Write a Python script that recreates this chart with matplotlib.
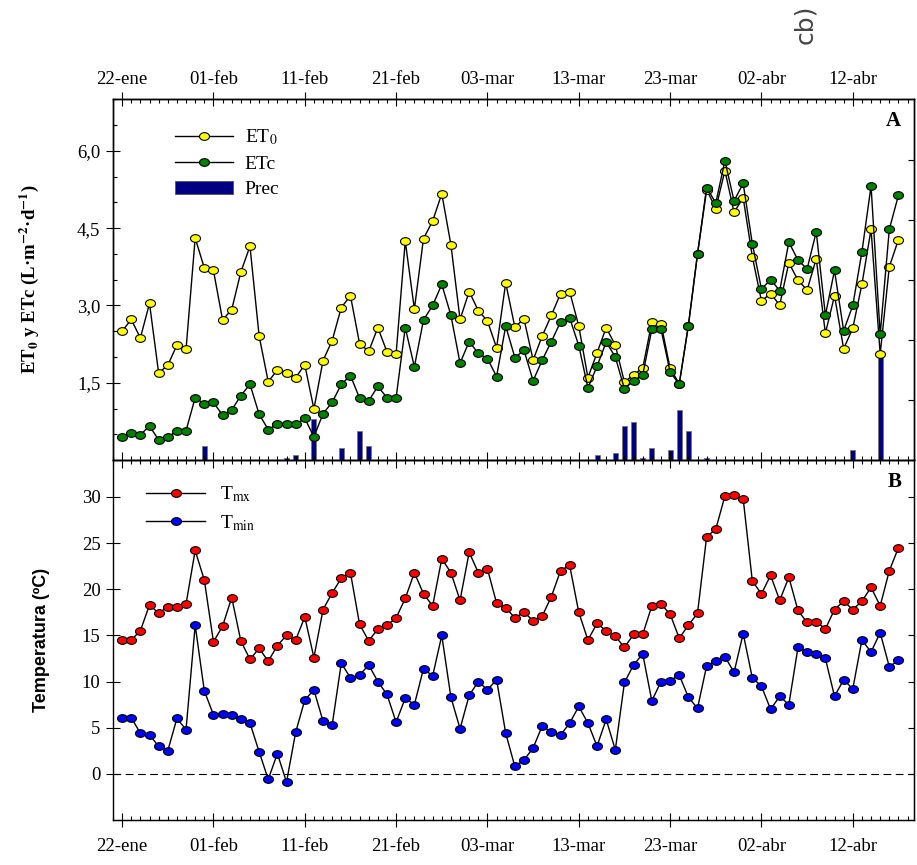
import numpy as np
import matplotlib
matplotlib.use('Agg')
import matplotlib.pyplot as plt
from matplotlib.path import Path
from matplotlib.patches import Patch
from matplotlib.lines import Line2D
from matplotlib.ticker import MultipleLocator, FixedLocator, NullFormatter

plt.rcParams['font.family'] = 'Liberation Serif'
plt.rcParams['mathtext.fontset'] = 'stix'

# dias desde el 22 de enero; etiquetas cada 10 dias
etiquetas = ['22-ene', '01-feb', '11-feb', '21-feb', '03-mar',
             '13-mar', '23-mar', '02-abr', '12-abr']
pos_etiquetas = [0, 10, 20, 30, 40, 50, 60, 70, 80]

et0 = [2.50, 2.73, 2.37, 3.04, 1.69, 1.84, 2.23, 2.15, 4.31, 3.73,
       3.68, 2.72, 2.92, 3.65, 4.15, 2.41, 1.52, 1.75, 1.68, 1.60,
       1.85, 0.99, 1.93, 2.32, 2.96, 3.19, 2.26, 2.11, 2.57, 2.10,
       2.06, 4.25, 2.93, 4.30, 4.64, 5.17, 4.18, 2.73, 3.27, 2.90,
       2.70, 2.18, 3.44, 2.58, 2.74, 1.94, 2.41, 2.81, 3.23, 3.27,
       2.60, 1.60, 2.08, 2.57, 2.23, 1.51, 1.66, 1.78, 2.68, 2.65,
       1.78, 1.48, 2.61, 4.00, 5.25, 4.88, 5.62, 4.81, 5.09, 3.95,
       3.09, 3.23, 3.01, 3.83, 3.49, 3.30, 3.91, 2.46, 3.19, 2.16,
       2.56, 3.41, 4.48, 2.06, 3.75, 4.28]

etc = [0.45, 0.53, 0.49, 0.66, 0.39, 0.44, 0.57, 0.57, 1.21, 1.09,
       1.12, 0.87, 0.97, 1.25, 1.47, 0.89, 0.59, 0.70, 0.70, 0.69,
       0.81, 0.45, 0.90, 1.12, 1.47, 1.64, 1.20, 1.15, 1.43, 1.21,
       1.21, 2.57, 1.81, 2.72, 3.00, 3.41, 2.81, 1.88, 2.30, 2.07,
       1.97, 1.62, 2.60, 1.99, 2.13, 1.54, 1.94, 2.30, 2.68, 2.76,
       2.22, 1.40, 1.82, 2.29, 2.00, 1.38, 1.54, 1.65, 2.54, 2.54,
       1.71, 1.47, 2.61, 4.00, 5.29, 4.99, 5.81, 5.03, 5.37, 4.20,
       3.32, 3.50, 3.29, 4.23, 3.88, 3.71, 4.43, 2.81, 3.68, 2.51,
       3.00, 4.04, 5.32, 2.44, 4.48, 5.14]

# precipitacion (mm), eje derecho 0-60
prec = [0, 0, 0, 0, 0, 0, 0, 0, 0, 2.4,
        0, 0, 0, 0, 0, 0, 0, 0, 0.4, 0.8,
        0, 6.8, 0, 0, 2.0, 0, 4.8, 2.4, 0, 0,
        0, 0, 0, 0, 0, 0, 0, 0, 0, 0,
        0, 0, 0, 0, 0, 0, 0, 0, 0, 0,
        0, 0, 0.8, 0, 1.2, 5.6, 6.4, 0.4, 2.0, 0,
        1.6, 8.4, 4.8, 0, 0.4, 0, 0, 0, 0, 0,
        0, 0, 0, 0, 0, 0, 0, 0, 0, 0,
        1.6, 0, 0, 17.5, 0, 0]

tmx = [14.5, 14.5, 15.5, 18.3, 17.4, 18.1, 18.1, 18.4, 24.2, 21.0,
       14.3, 16.0, 19.1, 14.4, 12.4, 13.6, 12.2, 13.9, 15.0, 14.5,
       17.0, 12.6, 17.8, 19.6, 21.2, 21.8, 16.2, 14.4, 15.7, 16.1,
       16.9, 19.0, 21.8, 19.5, 18.2, 23.3, 21.8, 18.8, 24.0, 21.8,
       22.2, 18.5, 18.0, 16.9, 17.5, 16.6, 17.1, 19.2, 22.0, 22.6,
       17.5, 14.5, 16.3, 15.5, 14.9, 13.7, 15.1, 15.1, 18.2, 18.4,
       17.3, 14.7, 16.1, 17.4, 25.7, 26.5, 30.1, 30.2, 29.8, 20.9,
       19.5, 21.5, 18.8, 21.3, 17.7, 16.4, 16.5, 15.7, 17.8, 18.7,
       17.8, 18.7, 20.2, 18.2, 22.0, 24.5]

tmin = [6.0, 6.1, 4.4, 4.2, 3.0, 2.5, 6.0, 4.8, 16.1, 9.0,
        6.4, 6.5, 6.4, 5.9, 5.5, 2.4, -0.6, 2.2, -0.9, 4.5,
        8.0, 9.1, 5.7, 5.3, 12.0, 10.4, 10.7, 11.8, 10.0, 8.6,
        5.6, 8.2, 7.5, 11.4, 10.6, 15.0, 8.3, 4.9, 8.5, 10.0,
        9.1, 10.2, 4.4, 0.8, 1.5, 2.8, 5.2, 4.5, 4.2, 5.5,
        7.3, 5.5, 3.0, 5.9, 2.6, 9.9, 11.8, 13.0, 7.9, 10.0,
        10.1, 10.7, 8.3, 7.1, 11.7, 12.2, 12.7, 11.0, 15.2, 10.4,
        9.5, 7.0, 8.4, 7.5, 13.7, 13.2, 13.0, 12.5, 8.4, 10.2,
        9.2, 14.5, 13.2, 15.3, 11.6, 12.3]

dias = np.arange(len(et0))

# marcador circular algo achatado
circ = Path.unit_circle()
elipse = Path(circ.vertices * [1.3, 1.0], circ.codes)
mk = dict(marker=elipse, markersize=7.2, markeredgecolor='black',
          markeredgewidth=0.8, color='black', linewidth=1.0)

fig = plt.figure(figsize=(9.17, 8.65), dpi=100)
ax1 = fig.add_axes([0.1232, 0.4682, 0.8735, 0.4168])
ax2 = fig.add_axes([0.1232, 0.0520, 0.8735, 0.4162])
ax1b = ax1.twinx()

xlim = (-1.0, 86.7)

# --- panel A ---
ax1b.bar(dias, prec, width=0.55, color='#000080', edgecolor='#777777', linewidth=0.6)
ax1b.set_ylim(0, 60)
ax1b.yaxis.set_major_locator(FixedLocator([10, 20, 30, 40, 50]))
ax1b.yaxis.set_major_formatter(NullFormatter())
ax1b.tick_params(axis='y', direction='in', length=4, width=0.8)

ax1.set_zorder(ax1b.get_zorder() + 1)
ax1.patch.set_visible(False)
ax1.plot(dias, et0, markerfacecolor='#FFFF00', **mk)
ax1.plot(dias, etc, markerfacecolor='#008000', **mk)
ax1.set_xlim(*xlim)
ax1.set_ylim(0, 7)
ax1.yaxis.set_major_locator(FixedLocator([1.5, 3.0, 4.5, 6.0]))
ax1.set_yticklabels(['1,5', '3,0', '4,5', '6,0'], fontsize=13.5)
ax1.yaxis.set_minor_locator(MultipleLocator(0.5))
ax1.tick_params(axis='y', which='major', direction='inout', length=10, width=0.8, pad=4)
ax1.tick_params(axis='y', which='minor', direction='in', length=3, width=0.8)
ax1.xaxis.set_major_locator(FixedLocator(pos_etiquetas))
ax1.xaxis.set_minor_locator(MultipleLocator(1))
ax1.tick_params(axis='x', which='both', direction='in', bottom=True, top=False,
                labelbottom=False, width=0.8)
ax1.tick_params(axis='x', which='major', length=6)
ax1.tick_params(axis='x', which='minor', length=3)

top = ax1.secondary_xaxis('top')
top.set_xticks(pos_etiquetas)
top.set_xticklabels(etiquetas, fontsize=13.5)
top.xaxis.set_minor_locator(MultipleLocator(1))
top.tick_params(which='major', direction='inout', length=10, width=0.8, pad=3)
top.tick_params(which='minor', direction='in', length=3, width=0.8)

ax1.set_ylabel('ET$_{\\mathbf{0}}$ y ETc (L·m$^{\\mathbf{-2}}$·d$^{\\mathbf{-1}}$)',
               fontsize=13.5, fontweight='bold')
ax1.yaxis.set_label_coords(-0.09, 0.5)
ax1.text(0.974, 0.94, 'A', transform=ax1.transAxes, fontsize=15,
         fontweight='bold', ha='center', va='center')

hand1 = [Line2D([], [], markerfacecolor='#FFFF00', **mk),
         Line2D([], [], markerfacecolor='#008000', **mk),
         Patch(facecolor='#000080', edgecolor='#555555', linewidth=0.6)]
ax1.legend(hand1, ['ET$_0$', 'ETc', 'Prec'], loc='upper left',
           bbox_to_anchor=(0.055, 0.97), frameon=False, fontsize=14,
           handlelength=3.0, handletextpad=0.6, labelspacing=0.4)

# --- panel B ---
ax2.axhline(0, color='black', linestyle=(0, (7, 4)), linewidth=0.8)
ax2.plot(dias, tmx, markerfacecolor='#FF0000', **mk)
ax2.plot(dias, tmin, markerfacecolor='#0000FF', **mk)
ax2.set_xlim(*xlim)
ax2.set_ylim(-5, 34)
ax2.yaxis.set_major_locator(FixedLocator([0, 5, 10, 15, 20, 25, 30]))
ax2.tick_params(axis='y', which='major', direction='inout', length=10, width=0.8,
                pad=4, labelsize=13.5)
ax2.xaxis.set_major_locator(FixedLocator(pos_etiquetas))
ax2.xaxis.set_minor_locator(MultipleLocator(1))
ax2.tick_params(axis='x', which='both', direction='in', top=True, bottom=False,
                labelbottom=False, width=0.8)
ax2.tick_params(axis='x', which='major', length=6)
ax2.tick_params(axis='x', which='minor', length=3)

bot = ax2.secondary_xaxis('bottom')
bot.set_xticks(pos_etiquetas)
bot.set_xticklabels(etiquetas, fontsize=13.5)
bot.xaxis.set_minor_locator(MultipleLocator(1))
bot.tick_params(which='major', direction='inout', length=10, width=0.8, pad=8)
bot.tick_params(which='minor', direction='in', length=3, width=0.8)

der = ax2.secondary_yaxis('right')
der.yaxis.set_major_locator(FixedLocator([0, 5, 10, 15, 20, 25, 30]))
der.yaxis.set_major_formatter(NullFormatter())
der.tick_params(direction='in', length=4, width=0.8)

ax2.set_ylabel('Temperatura (ºC)', fontsize=13, fontweight='bold',
               family='Liberation Sans')
ax2.yaxis.set_label_coords(-0.079, 0.5)
ax2.text(0.976, 0.94, 'B', transform=ax2.transAxes, fontsize=15,
         fontweight='bold', ha='center', va='center')

hand2 = [Line2D([], [], markerfacecolor='#FF0000', **mk),
         Line2D([], [], markerfacecolor='#0000FF', **mk)]
ax2.legend(hand2, ['T$_{\\mathrm{mx}}$', 'T$_{\\mathrm{min}}$'], loc='upper left',
           bbox_to_anchor=(0.02, 0.98), frameon=False, fontsize=14,
           handlelength=3.0, handletextpad=0.8, labelspacing=0.45)

for ax in (ax1, ax2, ax1b):
    for s in ax.spines.values():
        s.set_linewidth(1.0)

fig.text(0.878, 0.972, 'cb)', rotation=90, fontsize=18, color='#444444',
         family='DejaVu Sans', ha='center', va='center')

fig.savefig('out.png', dpi=100)
